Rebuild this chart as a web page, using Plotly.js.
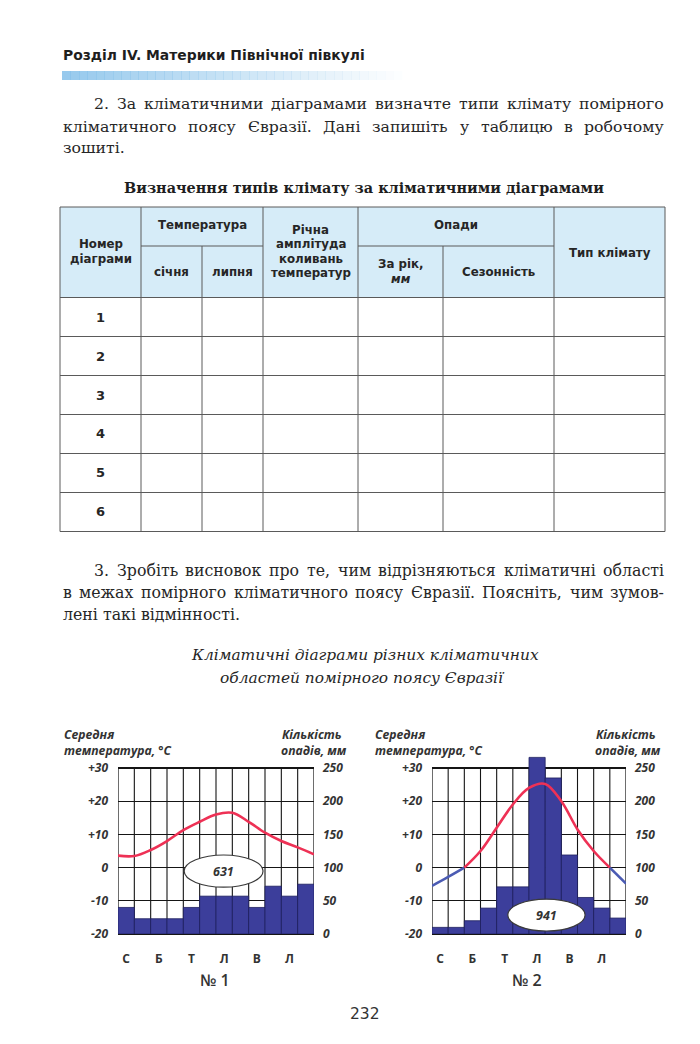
<!DOCTYPE html>
<html>
<head>
<meta charset="utf-8">
<script src="https://cdn.plot.ly/plotly-3.0.1.min.js"></script>
<style>
  html, body { margin: 0; padding: 0; background: #ffffff; }
  #page { width: 700px; height: 1044px; }
</style>
</head>
<body>
<div id="page"></div>
<script>
// ---------------- DATA ----------------
const months = ['Січень','Лютий','Березень','Квітень','Травень','Червень','Липень','Серпень','Вересень','Жовтень','Листопад','Грудень'];
const monthTickLabels = ['С','Б','Т','Л','В','Л'];
const monthTickIndex = [0, 2, 4, 6, 8, 10];
const tempTickVals = [-20, -10, 0, 10, 20, 30];
const tempTickText = ['-20', '-10', '0', '+10', '+20', '+30'];
const precipTickVals = [0, 50, 100, 150, 200, 250];

// Diagram 1 — precipitation per month (mm), temperature at month boundaries (°C)
const precip1 = [40, 23, 23, 23, 40, 57, 57, 57, 40, 72, 57, 75];
const temp1 = [3.6, 3.5, 5.3, 8.0, 11.3, 13.8, 16.0, 16.5, 13.8, 10.5, 8.0, 6.1, 4.0];
const total1 = 631;

// Diagram 2
const precip2 = [10, 10, 20, 39, 71, 71, 266, 235, 119, 55, 39, 24];
const temp2 = [-5.5, -2.8, 0, 5, 12, 19, 24, 25.2, 20, 11.5, 5, 0, -4.8];
const total2 = 941;

// Table
const rowNumbers = [1, 2, 3, 4, 5, 6];

// ---------------- HELPERS ----------------
const W = 700, H = 1044;
const X = px => px / W;
const Y = py => 1 - py / H;
const cv = document.createElement('canvas').getContext('2d');
function measure(text, f) {
  cv.font = `${f.style || 'normal'} ${f.weight || 400} ${f.size}px "${f.family}"`;
  return cv.measureText(text).width;
}
function fitSize(text, f, width) {
  return 100 * width / measure(text, Object.assign({}, f, {size: 100}));
}

const annotations = [];
const shapes = [];
function txt(text, x, y, font, xanchor) {
  annotations.push({
    text: text, x: X(x), y: Y(y), xref: 'paper', yref: 'paper',
    xanchor: xanchor || 'center', yanchor: 'middle', showarrow: false,
    borderpad: 0, font: font
  });
}
function justify(text, x0, x1, y, f) {
  const words = text.split(/\s+/);
  const ws = words.map(w => measure(w, f));
  const total = ws.reduce((a, b) => a + b, 0);
  const gap = (x1 - x0 - total) / (words.length - 1);
  let x = x0;
  words.forEach((w, i) => { txt(w, x, y, f, 'left'); x += ws[i] + gap; });
}

// ---------------- PAGE TEXT ----------------
const sansBold = {family: 'DejaVu Sans', weight: 700, color: '#1e1e1e'};
const headerText = 'Розділ IV. Материки Північної півкулі';
txt(headerText, 62, 55, Object.assign({}, sansBold, {size: fitSize(headerText, sansBold, 302)}), 'left');

// gradient bar under header
for (let i = 0; i < 40; i++) {
  const a = 0.8 * (1 - i / 40);
  shapes.push({type: 'rect', xref: 'paper', yref: 'paper', layer: 'below',
    x0: X(62 + i * 8.5), x1: X(62 + (i + 1) * 8.5 + 0.5), y0: Y(80), y1: Y(71),
    fillcolor: `rgba(125,188,232,${a.toFixed(3)})`, line: {width: 0}});
}

const serif = {family: 'DejaVu Serif', color: '#262626'};
const p2 = ['2.  За кліматичними діаграмами визначте типи клімату помірного',
            'кліматичного поясу Євразії. Дані запишіть у таблицю в робочому',
            'зошиті.'];
const p3 = ['3.  Зробіть висновок про те, чим відрізняються кліматичні області',
            'в межах помірного кліматичного поясу Євразії. Поясніть, чим зумов-',
            'лені такі відмінності.'];
function paragraph(lines, y0) {
  const f0 = Object.assign({}, serif, {size: 100});
  const s1 = 100 * 555 / measure(lines[0], f0);
  const s2 = 100 * 585 / measure(lines[1], f0);
  const size = Math.min(15.8, s1, s2);
  const f = Object.assign({}, serif, {size: size});
  justify(lines[0], 93, 663, y0, f);
  justify(lines[1], 62, 663, y0 + 22.5, f);
  txt(lines[2], 62, y0 + 44, f, 'left');
}
paragraph(p2, 104);
paragraph(p3, 570);

const tableTitle = 'Визначення типів клімату за кліматичними діаграмами';
const serifBold = Object.assign({}, serif, {weight: 700, color: '#1e1e1e'});
txt(tableTitle, 364, 187, Object.assign({}, serifBold, {size: fitSize(tableTitle, serifBold, 480)}));

const cap1 = 'Кліматичні діаграми різних кліматичних';
const cap2 = 'областей помірного поясу Євразії';
const serifIt = Object.assign({}, serif, {style: 'italic'});
const capSize = fitSize(cap1, serifIt, 347);
txt(cap1, 365, 655, Object.assign({}, serifIt, {size: capSize}));
txt(cap2, 362, 678, Object.assign({}, serifIt, {size: capSize}));

txt('232', 365, 1014, {family: 'DejaVu Sans', size: 15.5, color: '#333'});

// ---------------- TABLE ----------------
const T = {x: [60, 141, 202, 263, 358, 443, 554, 665], top: 207, mid: 246, head: 297.5, rowH: 39};
const tBottom = T.head + rowNumbers.length * T.rowH;
const lineStyle = {color: '#5a5a5a', width: 1};
function pline(x0, y0, x1, y1) {
  shapes.push({type: 'line', xref: 'paper', yref: 'paper', x0: X(x0), y0: Y(y0), x1: X(x1), y1: Y(y1), line: lineStyle});
}
shapes.push({type: 'rect', xref: 'paper', yref: 'paper', layer: 'below',
  x0: X(T.x[0]), x1: X(T.x[7]), y0: Y(T.head), y1: Y(T.top), fillcolor: '#d6ecf8', line: {width: 0}});
pline(T.x[0], T.top, T.x[7], T.top);
pline(T.x[1], T.mid, T.x[3], T.mid);
pline(T.x[4], T.mid, T.x[6], T.mid);
for (let k = 0; k <= rowNumbers.length; k++) pline(T.x[0], T.head + k * T.rowH, T.x[7], T.head + k * T.rowH);
[0, 1, 3, 4, 6, 7].forEach(i => pline(T.x[i], T.top, T.x[i], tBottom));
[2, 5].forEach(i => pline(T.x[i], T.mid, T.x[i], tBottom));

const th = {family: 'DejaVu Sans', weight: 700, size: 11.8, color: '#262626'};
const thIt = Object.assign({}, th, {style: 'italic'});
const cx = (a, b) => (T.x[a] + T.x[b]) / 2;
txt('Номер', cx(0, 1), 244, th); txt('діаграми', cx(0, 1), 259, th);
txt('Температура', cx(1, 3), 225, th);
txt('січня', cx(1, 2), 272, th); txt('липня', cx(2, 3), 272, th);
['Річна', 'амплітуда', 'коливань', 'температур'].forEach((s, i) => txt(s, cx(3, 4), 230 + i * 14.4, th));
txt('Опади', cx(4, 6), 225, th);
txt('За рік,', cx(4, 5), 264, th); txt('мм', cx(4, 5), 279, thIt);
txt('Сезонність', cx(5, 6), 272, th);
txt('Тип клімату', cx(6, 7), 253, th);
rowNumbers.forEach((n, k) => txt(String(n), cx(0, 1), T.head + k * T.rowH + T.rowH / 2,
  {family: 'DejaVu Sans', weight: 700, size: 13, color: '#262626'}));

// ---------------- CHARTS ----------------
const RED = '#ee3155', BLUE = '#4b5bb3', BAR = '#3c3e9b', GRID = '#151515';
const tickFontIt = {family: 'Open Sans', size: 12, weight: 700, style: 'italic', color: '#333'};
const tickFontX = {family: 'Open Sans', size: 12, weight: 700, color: '#333'};

// plot frame in px; the domain is extended upward so tall bars can rise above the +30 line
const plotTop = 768, plotBot = 934, overTop = 750;
const ext = (plotBot - overTop) / (plotBot - plotTop);
const precipMax = precipTickVals[precipTickVals.length - 1];
const tempMin = tempTickVals[0], tempSpan = tempTickVals[tempTickVals.length - 1] - tempMin;

function xAxis(d) {
  return {domain: [X(d[0]), X(d[1])], range: [0, months.length], fixedrange: true,
    tickmode: 'array', tickvals: monthTickIndex.map(i => i + 0.5), ticktext: monthTickLabels,
    ticks: '', ticklabelstandoff: 13, tickfont: tickFontX,
    showgrid: false, zeroline: false, showline: true, mirror: false, linecolor: GRID, linewidth: 1.2};
}
function precipAxis(xa) {
  return {domain: [Y(plotBot), Y(overTop)], anchor: xa, side: 'right', range: [0, precipMax * ext], fixedrange: true,
    tickmode: 'array', tickvals: precipTickVals, ticks: '', ticklabelstandoff: 8, tickfont: tickFontIt,
    showgrid: true, gridcolor: GRID, gridwidth: 1.15, zeroline: false, showline: false};
}
function tempAxis(xa, over) {
  return {overlaying: over, anchor: xa, side: 'left', range: [tempMin, tempMin + tempSpan * ext], fixedrange: true,
    tickmode: 'array', tickvals: tempTickVals, ticktext: tempTickText, ticks: '', ticklabelstandoff: 9,
    tickfont: tickFontIt, showgrid: false, zeroline: false, showline: false};
}
// vertical month grid (incl. left/right frame), limited to the 0..250 mm frame
function monthGrid(xa, ya) {
  for (let k = 0; k <= months.length; k++) {
    shapes.push({type: 'line', xref: xa, yref: ya, x0: k, x1: k, y0: 0, y1: precipMax,
      layer: 'below', line: {color: GRID, width: (k === 0 || k === months.length) ? 1.25 : 1.1}});
  }
}
monthGrid('x', 'y');
monthGrid('x2', 'y3');

const traces = [];
function addChart(precip, temp, xa, ya, ta) {
  traces.push({type: 'bar', x: precip.map((v, i) => i + 0.5), y: precip, width: 1,
    xaxis: xa, yaxis: ya, hoverinfo: 'skip',
    marker: {color: BAR, line: {color: '#1f2160', width: 0.8}}});
  let seg = null;
  for (let i = 0; i < temp.length - 1; i++) {
    const col = (temp[i] + temp[i + 1]) / 2 >= 0 ? RED : BLUE;
    if (!seg || seg.col !== col) {
      seg = {col: col, x: [i], y: [temp[i]]};
      traces.push(seg);
    }
    seg.x.push(i + 1); seg.y.push(temp[i + 1]);
  }
  traces.forEach(t => {
    if (t.col) {
      Object.assign(t, {type: 'scatter', mode: 'lines', xaxis: xa, yaxis: ta, hoverinfo: 'skip',
        line: {color: t.col, width: 2.6, shape: 'spline', smoothing: 1}});
      delete t.col;
    }
  });
}
addChart(precip1, temp1, 'x', 'y', 'y2');
addChart(precip2, temp2, 'x2', 'y3', 'y4');

// total-precipitation ellipses
function totalBadge(total, xa, ya, x0, x1, y0, y1) {
  shapes.push({type: 'circle', xref: xa, yref: ya, x0: x0, x1: x1, y0: y0, y1: y1, layer: 'above',
    fillcolor: '#ffffff', line: {color: '#3a3a3a', width: 1.2}});
  annotations.push({text: String(total), xref: xa, yref: ya, x: (x0 + x1) / 2, y: (y0 + y1) / 2,
    showarrow: false, xanchor: 'center', yanchor: 'middle',
    font: {family: 'Open Sans', size: 12.5, weight: 700, style: 'italic', color: '#333'}});
}
totalBadge(total1, 'x', 'y2', 4.05, 8.88, -5.9, 3.8);
totalBadge(total2, 'x2', 'y4', 4.69, 9.47, -19.1, -9.5);

// axis titles & diagram numbers
const axT = {family: 'Open Sans', size: 12.2, weight: 700, style: 'italic', color: '#333'};
function chartLabels(left, right, numX, num) {
  txt('Середня', left, 734, axT, 'left');
  txt('температура, °С', left, 750, axT, 'left');
  txt('Кількість', right - 5, 734, axT, 'right');
  txt('опадів, мм', right, 750, axT, 'right');
  txt('№ ' + num, numX, 980, {family: 'Open Sans', size: 16, weight: 600, color: '#333'});
}
chartLabels(63, 348, 215, 1);
chartLabels(374, 662, 527, 2);

const layout = {
  width: W, height: H, margin: {l: 0, r: 0, t: 0, b: 0},
  paper_bgcolor: '#ffffff', plot_bgcolor: 'rgba(0,0,0,0)',
  showlegend: false, bargap: 0, barmode: 'overlay',
  xaxis: xAxis([118, 314]),
  yaxis: precipAxis('x'),
  yaxis2: tempAxis('x', 'y'),
  xaxis2: xAxis([432, 626]),
  yaxis3: precipAxis('x2'),
  yaxis4: tempAxis('x2', 'y3'),
  shapes: shapes,
  annotations: annotations
};

Plotly.newPlot('page', traces, layout, {displayModeBar: false, staticPlot: true});
</script>
</body>
</html>
